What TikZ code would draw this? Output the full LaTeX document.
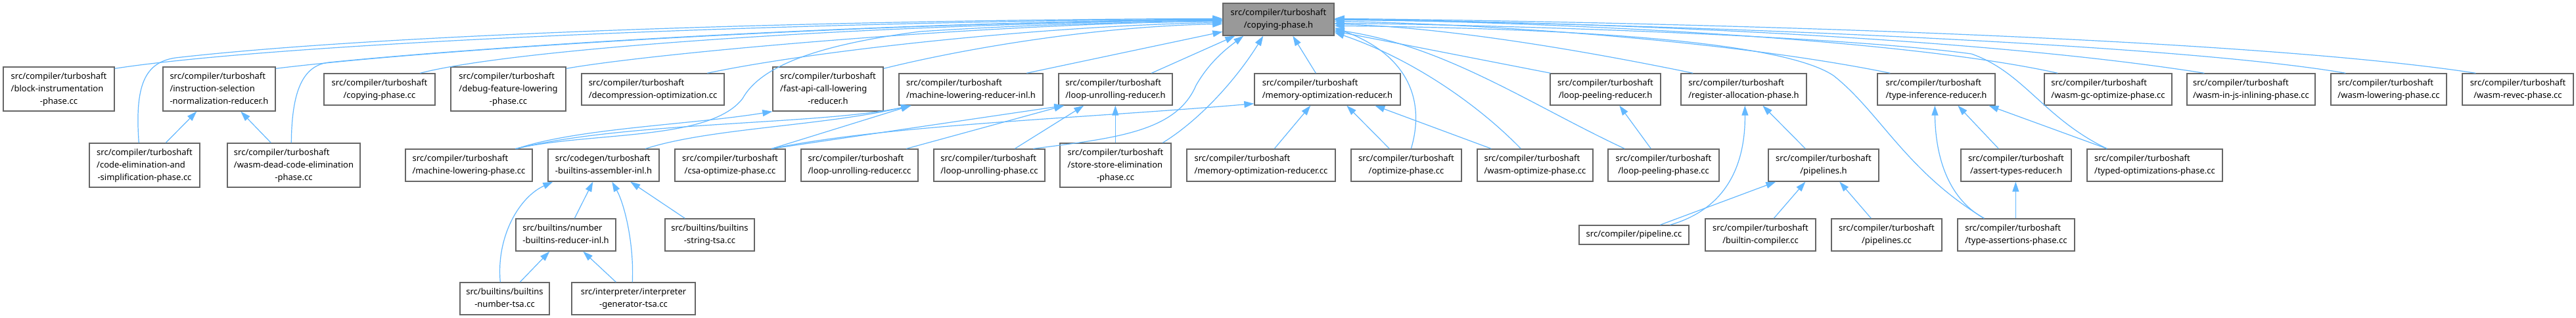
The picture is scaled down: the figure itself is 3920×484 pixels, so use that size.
\documentclass[tikz,border=0pt]{standalone}
\usepackage{fontspec}
\setmainfont{Noto Sans}
\usetikzlibrary{arrows.meta,calc}
\definecolor{edgeblue}{HTML}{63B8FF}
\definecolor{boxborder}{HTML}{666666}
\definecolor{rootfill}{HTML}{999999}
\newcommand{\onel}[1]{#1}
\newcommand{\twol}[2]{\begin{tabular}{@{}l@{}}#1\\\multicolumn{1}{@{}c@{}}{#2}\end{tabular}}
\newcommand{\threel}[3]{\begin{tabular}{@{}l@{}}#1\\#2\\\multicolumn{1}{@{}c@{}}{#3}\end{tabular}}
\newcommand{\bx}[7][]{\node[nbox,#1,minimum width={(#5-#3)*1pt},minimum height={(#6-#4)*1pt}] (#2) at ({(#3+#5)/2},{(#4+#6)/2}) {#7};}
\newcommand{\ct}{src/compiler/turboshaft}
\begin{document}
\begin{tikzpicture}[x=1pt,y=-1pt,
  nbox/.style={draw=boxborder,line width=1.4pt,fill=white,inner sep=0pt,font=\fontsize{13}{19}\selectfont,text=black},
  edge/.style={draw=edgeblue,line width=1.2pt,-{Triangle[length=15pt,width=10pt]}}]
\fill[white] (0,0) rectangle (3920,484);
\useasboundingbox (0,0) rectangle (3920,484);
% root
\bx[fill=rootfill]{cph}{1861}{5}{2030}{54}{\twol{\ct}{/copying-phase.h}}
% row 1
\bx{bip}{5}{102}{174}{169}{\threel{\ct}{/block-instrumentation}{-phase.cc}}
\bx{isnr}{248}{102}{419}{169}{\threel{\ct}{/instruction-selection}{-normalization-reducer.h}}
\bx{cpc}{493}{112}{662}{160}{\twol{\ct}{/copying-phase.cc}}
\bx{dfl}{686}{102}{861}{169}{\threel{\ct}{/debug-feature-lowering}{-phase.cc}}
\bx{dco}{885}{112}{1102}{160}{\twol{\ct}{/decompression-optimization.cc}}
\bx{fac}{1176}{102}{1344}{169}{\threel{\ct}{/fast-api-call-lowering}{-reducer.h}}
\bx{mlr}{1368}{112}{1587}{160}{\twol{\ct}{/machine-lowering-reducer-inl.h}}
\bx{lur}{1611}{112}{1784}{160}{\twol{\ct}{/loop-unrolling-reducer.h}}
\bx{mor}{1909}{112}{2131}{160}{\twol{\ct}{/memory-optimization-reducer.h}}
\bx{lpr}{2359}{112}{2527}{160}{\twol{\ct}{/loop-peeling-reducer.h}}
\bx{rap}{2558}{112}{2749}{160}{\twol{\ct}{/register-allocation-phase.h}}
\bx{tir}{2857}{112}{3036}{160}{\twol{\ct}{/type-inference-reducer.h}}
\bx{wgc}{3111}{112}{3305}{160}{\twol{\ct}{/wasm-gc-optimize-phase.cc}}
\bx{wij}{3328}{112}{3523}{160}{\twol{\ct}{/wasm-in-js-inlining-phase.cc}}
\bx{wlp}{3547}{112}{3723}{160}{\twol{\ct}{/wasm-lowering-phase.cc}}
\bx{wrp}{3747}{112}{3916}{160}{\twol{\ct}{/wasm-revec-phase.cc}}
% row 2
\bx{ces}{136}{218}{304}{285}{\threel{\ct}{/code-elimination-and}{-simplification-phase.cc}}
\bx{wdc}{346}{218}{548}{285}{\threel{\ct}{/wasm-dead-code-elimination}{-phase.cc}}
\bx{mlp}{617}{227}{810}{276}{\twol{\ct}{/machine-lowering-phase.cc}}
\bx{tba}{834}{227}{1003}{276}{\twol{src/codegen/turboshaft}{-builtins-assembler-inl.h}}
\bx{csa}{1027}{227}{1195}{276}{\twol{\ct}{/csa-optimize-phase.cc}}
\bx{luc}{1219}{227}{1397}{276}{\twol{\ct}{/loop-unrolling-reducer.cc}}
\bx{lup}{1421}{227}{1590}{276}{\twol{\ct}{/loop-unrolling-phase.cc}}
\bx{sse}{1613}{218}{1782}{285}{\threel{\ct}{/store-store-elimination}{-phase.cc}}
\bx{moc}{1806}{227}{2032}{276}{\twol{\ct}{/memory-optimization-reducer.cc}}
\bx{opt}{2056}{227}{2224}{276}{\twol{\ct}{/optimize-phase.cc}}
\bx{wop}{2248}{227}{2424}{276}{\twol{\ct}{/wasm-optimize-phase.cc}}
\bx{lpp}{2447}{227}{2616}{276}{\twol{\ct}{/loop-peeling-phase.cc}}
\bx{plh}{2691}{227}{2859}{276}{\twol{\ct}{/pipelines.h}}
\bx{atr}{2984}{227}{3152}{276}{\twol{\ct}{/assert-types-reducer.h}}
\bx{top}{3176}{227}{3382}{276}{\twol{\ct}{/typed-optimizations-phase.cc}}
% row 3
\bx{nbr}{785}{333}{937}{382}{\twol{src/builtins/number}{-builtins-reducer-inl.h}}
\bx{bst}{1012}{333}{1148}{382}{\twol{src/builtins/builtins}{-string-tsa.cc}}
\bx{ppc}{2403}{343}{2570}{372}{\onel{src/compiler/pipeline.cc}}
\bx{bcc}{2595}{333}{2763}{382}{\twol{\ct}{/builtin-compiler.cc}}
\bx{pcc}{2787}{333}{2955}{382}{\twol{\ct}{/pipelines.cc}}
\bx{tap}{2979}{333}{3157}{382}{\twol{\ct}{/type-assertions-phase.cc}}
% row 4
\bx{bnt}{700}{430}{836}{479}{\twol{src/builtins/builtins}{-number-tsa.cc}}
\bx{igt}{870}{430}{1058}{479}{\twol{src/interpreter/interpreter}{-generator-tsa.cc}}
% ---- edges to root, from the left
\draw[edge] ($(bip.north east)+(0,3)$) .. controls (450,62) and (1300,31) .. ($(cph.north west)+(0,25)$);
\draw[edge] ($(isnr.north east)+(0,3)$) .. controls (700,70) and (1400,32) .. ($(cph.north west)+(0,26)$);
\draw[edge] ($(ces.north west)+(76,0)$) .. controls (205,130) and (220,95) .. (267,88) .. controls (600,50) and (1300,30) .. ($(cph.north west)+(0,24)$);
\draw[edge] ($(wdc.north west)+(98,0)$) .. controls (444,140) and (460,100) .. (500,95) .. controls (800,65) and (1400,32) .. ($(cph.north west)+(0,26)$);
\draw[edge] ($(cpc.north west)+(147,0)$) .. controls (800,70) and (1400,34) .. ($(cph.north west)+(0,27)$);
\draw[edge] ($(dfl.north east)+(0,3)$) .. controls (1000,80) and (1500,36) .. ($(cph.north west)+(0,28)$);
\draw[edge] ($(dco.north west)+(192,0)$) .. controls (1250,75) and (1600,39) .. ($(cph.north west)+(0,30)$);
\draw[edge] ($(fac.north east)+(0,3)$) .. controls (1450,78) and (1650,41) .. ($(cph.north west)+(0,32)$);
\draw[edge] ($(mlr.north west)+(195,0)$) -- ($(cph.north west)+(0,44)$);
\draw[edge] ($(mlp.north west)+(168,0)$) .. controls (900,200) and (1080,215) .. (1130,150) .. controls (1155,105) and (1230,70) .. (1400,48) .. controls (1600,35) and (1750,34) .. ($(cph.north west)+(0,28)$);
% ---- edges to root, from below
\draw[edge] ($(lur.north west)+(142,0)$) -- ($(cph.south west)+(19,0)$);
\draw[edge] ($(lup.north west)+(152,0)$) .. controls (1700,210) and (1790,200) .. (1820,130) .. controls (1840,95) and (1865,75) .. ($(cph.south west)+(32,0)$);
\draw[edge] ($(sse.north west)+(157,0)$) .. controls (1830,180) and (1885,115) .. ($(cph.south west)+(62,0)$);
\draw[edge] ($(mor.north west)+(94,0)$) -- ($(cph.south west)+(107,0)$);
% ---- edges to root, from the right
\draw[edge] ($(lpr.north west)+(1,0)$) -- ($(cph.north east)+(0,43)$);
\draw[edge] ($(rap.north west)+(19,0)$) .. controls (2400,75) and (2200,42) .. ($(cph.north east)+(0,32)$);
\draw[edge] ($(tir.north west)+(20,0)$) .. controls (2650,65) and (2300,38) .. ($(cph.north east)+(0,28)$);
\draw[edge] ($(wgc.north west)+(21,0)$) .. controls (2900,60) and (2400,35) .. ($(cph.north east)+(0,25)$);
\draw[edge] ($(wij.north west)+(27,0)$) .. controls (3000,55) and (2400,33) .. ($(cph.north east)+(0,25)$);
\draw[edge] ($(wlp.north west)+(23,0)$) .. controls (3300,65) and (2500,35) .. ($(cph.north east)+(0,26)$);
\draw[edge] ($(wrp.north west)+(21,0)$) .. controls (3400,55) and (2500,33) .. ($(cph.north east)+(0,24)$);
\draw[edge] ($(opt.north west)+(92,0)$) .. controls (2170,150) and (2140,82) .. ($(cph.north east)+(0,38)$);
\draw[edge] ($(wop.north west)+(67,0)$) .. controls (2250,160) and (2150,90) .. ($(cph.north east)+(0,45)$);
\draw[edge] ($(lpp.north west)+(26,0)$) .. controls (2330,160) and (2200,70) .. ($(cph.north east)+(0,41)$);
\draw[edge] ($(top.north west)+(31,0)$) .. controls (3110,180) and (3080,110) .. (3000,82) .. controls (2800,55) and (2300,38) .. ($(cph.north east)+(0,31)$);
\draw[edge] ($(tap.north west)+(41,0)$) .. controls (2900,260) and (2860,170) .. (2790,115) .. controls (2700,55) and (2300,42) .. ($(cph.north east)+(0,35)$);
% ---- other edges
\draw[edge] ($(ces.north west)+(117,0)$) -- ($(isnr.south west)+(52,0)$);
\draw[edge] ($(wdc.north west)+(67,0)$) -- ($(isnr.south west)+(119,0)$);
\draw[edge] ($(mlp.north west)+(170,0)$) .. controls (880,195) and (1050,190) .. (fac.south west);
\draw[edge] ($(mlp.north west)+(170,0)$) .. controls (950,185) and (1250,190) .. ($(mlr.south west)+(19,0)$);
\draw[edge] ($(tba.north west)+(149,0)$) .. controls (1080,195) and (1250,192) .. ($(mlr.south west)+(19,0)$);
\draw[edge] ($(csa.north west)+(148,0)$) -- ($(mlr.south west)+(19,0)$);
\draw[edge] ($(csa.north west)+(148,0)$) -- ($(lur.south west)+(9,0)$);
\draw[edge] ($(csa.north west)+(148,0)$) .. controls (1350,190) and (1650,180) .. ($(mor.south west)+(0,-3)$);
\draw[edge] ($(luc.north west)+(161,0)$) -- ($(lur.south west)+(9,0)$);
\draw[edge] ($(lup.north west)+(124,0)$) -- ($(lur.south west)+(39,0)$);
\draw[edge] ($(sse.north west)+(85,0)$) -- ($(lur.south west)+(87,0)$);
\draw[edge] ($(moc.north west)+(134,0)$) -- ($(mor.south west)+(86,0)$);
\draw[edge] ($(opt.north west)+(59,0)$) -- ($(mor.south west)+(141,0)$);
\draw[edge] ($(wop.north west)+(22,0)$) -- ($(mor.south west)+(184,0)$);
\draw[edge] ($(lpp.north west)+(66,0)$) -- ($(lpr.south west)+(106,0)$);
\draw[edge] ($(plh.north west)+(57,0)$) -- ($(rap.south west)+(125,0)$);
\draw[edge] ($(ppc.north west)+(139,0)$) .. controls (2620,320) and (2656,260) .. ($(rap.south west)+(98,0)$);
\draw[edge] ($(ppc.north west)+(124,0)$) -- ($(plh.south west)+(12,0)$);
\draw[edge] ($(bcc.north west)+(105,0)$) -- ($(plh.south west)+(57,0)$);
\draw[edge] ($(pcc.north west)+(61,0)$) -- ($(plh.south west)+(109,0)$);
\draw[edge] ($(atr.north west)+(58,0)$) -- ($(tir.south west)+(123,0)$);
\draw[edge] ($(top.north west)+(31,0)$) -- ($(tir.south west)+(170,0)$);
\draw[edge] ($(tap.north west)+(41,0)$) .. controls (2960,300) and (2945,230) .. ($(tir.south west)+(88,0)$);
\draw[edge] ($(tap.north west)+(89,0)$) -- ($(atr.south west)+(84,0)$);
\draw[edge] ($(bnt.north west)+(62,0)$) .. controls (755,360) and (790,300) .. ($(tba.south west)+(8,0)$);
\draw[edge] ($(nbr.north west)+(90,0)$) -- ($(tba.south west)+(69,0)$);
\draw[edge] ($(igt.north west)+(93,0)$) .. controls (965,370) and (950,310) .. ($(tba.south west)+(98,0)$);
\draw[edge] ($(bst.north west)+(31,0)$) -- ($(tba.south west)+(126,0)$);
\draw[edge] ($(bnt.north west)+(92,0)$) -- ($(nbr.south west)+(52,0)$);
\draw[edge] ($(igt.north west)+(68,0)$) -- ($(nbr.south west)+(103,0)$);
\end{tikzpicture}
\end{document}
